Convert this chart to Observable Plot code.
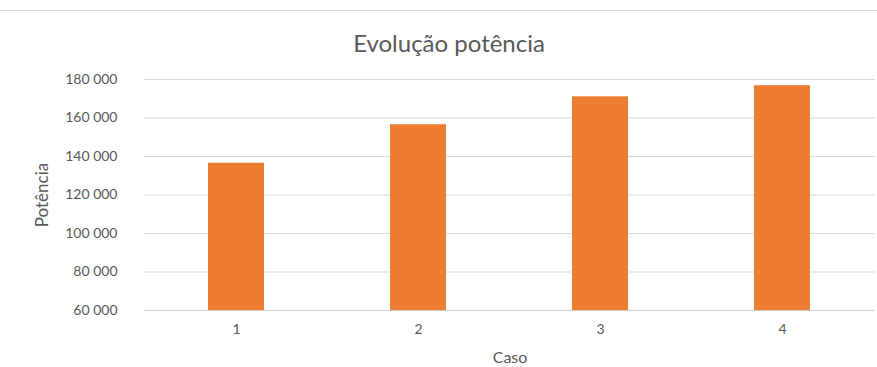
<!DOCTYPE html>
<html>
<head>
<meta charset="utf-8">
<script src="https://cdn.jsdelivr.net/npm/d3@7"></script>
<script src="https://cdn.jsdelivr.net/npm/@observablehq/plot@0.6"></script>
<style>
  body { margin: 0; background: #fff; }
  #chart { position: relative; width: 877px; height: 367px; }
  #chart .topline { position: absolute; left: 0; right: 0; top: 10px; border-top: 1px solid #d9d9d9; }
</style>
</head>
<body>
<div id="chart"><div class="topline"></div></div>
<script>
const casos = ["1", "2", "3", "4"];
const potencia = [136500, 156500, 171000, 176800];
const yTicks = [60000, 80000, 100000, 120000, 140000, 160000, 180000];
const title = "Evolução potência";
const xLabel = "Caso";
const yLabel = "Potência";

const data = casos.map((c, i) => ({caso: c, value: potencia[i]}));
const fmt = d3.formatLocale({decimal: ",", thousands: " ", grouping: [3], currency: ["", ""]}).format(",");
const font = "Lato, 'Open Sans', sans-serif";
const grey = "#595959";

const plot = Plot.plot({
  width: 877,
  height: 367,
  marginTop: 79,
  marginBottom: 57,
  marginLeft: 144,
  marginRight: 2,
  style: {fontFamily: font, fontSize: "14px", color: grey, background: "transparent"},
  x: {domain: casos, paddingInner: 0.69, paddingOuter: 0.345, label: null},
  y: {domain: [60000, 180000], label: null},
  marks: [
    Plot.gridY(yTicks, {stroke: "#d9d9d9", strokeOpacity: 1, strokeWidth: 1}),
    Plot.barY(data, {x: "caso", y1: 60000, y2: "value", fill: "#ED7D31"}),
    Plot.ruleY([60000], {stroke: "#d0d0d0", strokeWidth: 1}),
    Plot.axisY({ticks: yTicks, tickFormat: fmt, tickSize: 0, tickPadding: 27, label: null, fill: grey, fontSize: 14}),
    Plot.axisX({tickSize: 0, tickPadding: 14, label: null, fill: grey, fontSize: 14}),
    Plot.text([title], {frameAnchor: "top", dx: -61, dy: -35, fontSize: 24, fill: grey, lineAnchor: "middle"}),
    Plot.text([xLabel], {frameAnchor: "bottom", dy: 47, fontSize: 16, fill: grey, lineAnchor: "middle", textAnchor: "middle"}),
    Plot.text([yLabel], {frameAnchor: "left", dx: -102, rotate: -90, fontSize: 17, fill: grey, lineAnchor: "middle", textAnchor: "middle"})
  ]
});
document.getElementById("chart").appendChild(plot);
</script>
</body>
</html>
